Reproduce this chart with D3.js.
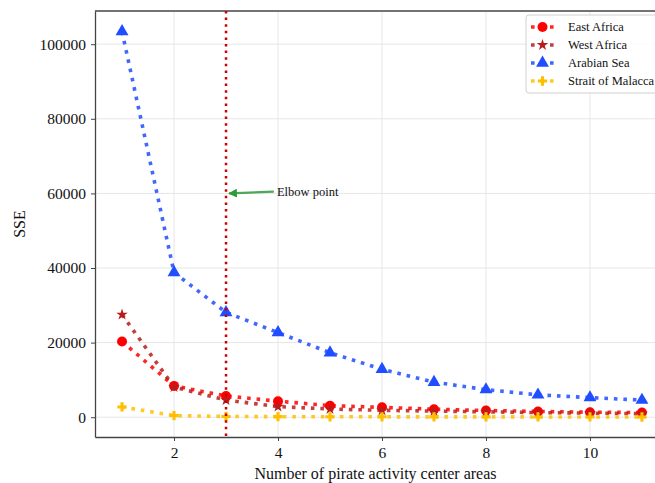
<!DOCTYPE html>
<html>
<head>
<meta charset="utf-8">
<script src="https://cdn.jsdelivr.net/npm/d3@7"></script>
<style>
  body { margin: 0; background: #fff; }
  svg { display: block; font-family: "Liberation Serif", "Times New Roman", serif; }
</style>
</head>
<body>
<svg id="chart" width="655" height="483"></svg>
<script>
// Number of clusters evaluated
const clusters = [1, 2, 3, 4, 5, 6, 7, 8, 9, 10, 11];

// SSE per region for each cluster count
const eastAfrica = [20300, 8400, 5700, 4300, 3100, 2650, 2150, 1800, 1550, 1350, 1250];
const westAfrica = [27500, 8100, 4600, 2850, 2200, 1850, 1650, 1450, 1250, 1100, 950];
const arabianSea = [103400, 38800, 28100, 22700, 17300, 12850, 9400, 7400, 6000, 5250, 4600];
const straitOfMalacca = [2750, 450, 200, 150, 120, 110, 100, 90, 80, 70, 60];

const seriesNames = ["East Africa", "West Africa", "Arabian Sea", "Strait of Malacca"];
const xTicks = [2, 4, 6, 8, 10];
const yTicks = [0, 20000, 40000, 60000, 80000, 100000];
const elbowK = 3;
const elbowLabel = "Elbow point";

const series = [
  { name: seriesNames[0], values: eastAfrica, color: "#ff0000", symbol: "circle" },
  { name: seriesNames[1], values: westAfrica, color: "#b81c1c", symbol: "star" },
  { name: seriesNames[2], values: arabianSea, color: "#1f4dff", symbol: "triangle" },
  { name: seriesNames[3], values: straitOfMalacca, color: "#ffbf00", symbol: "plus" }
];

const svg = d3.select("#chart");
const margin = { left: 95, top: 11, right: -1, bottom: 46 };
const W = 655, H = 483;
const iw = W - margin.left - margin.right;
const ih = H - margin.top - margin.bottom;

const x = d3.scaleLinear().domain([0.48, 11.27]).range([0, iw]);
const y = d3.scaleLinear().domain([-5300, 108900]).range([ih, 0]);

const g = svg.append("g").attr("transform", `translate(${margin.left},${margin.top})`);

// grid
g.append("g").selectAll("line").data(xTicks).join("line")
  .attr("x1", d => x(d)).attr("x2", d => x(d)).attr("y1", 0).attr("y2", ih)
  .attr("stroke", "#e6e6e6").attr("stroke-width", 1);
g.append("g").selectAll("line").data(yTicks).join("line")
  .attr("y1", d => y(d)).attr("y2", d => y(d)).attr("x1", 0).attr("x2", iw)
  .attr("stroke", "#e6e6e6").attr("stroke-width", 1);

// axes
const xAxis = g.append("g").attr("transform", `translate(0,${ih})`)
  .call(d3.axisBottom(x).tickValues(xTicks).tickFormat(d3.format("d"))
    .tickSize(4).tickPadding(6).tickSizeOuter(0));
const yAxis = g.append("g")
  .call(d3.axisLeft(y).tickValues(yTicks).tickFormat(d3.format("d"))
    .tickSize(4).tickPadding(5).tickSizeOuter(0));
[xAxis, yAxis].forEach(a => {
  a.attr("font-family", null).attr("font-size", null);
  a.select(".domain").attr("stroke", "#444").attr("stroke-width", 1.3);
  a.selectAll(".tick line").attr("stroke", "#444").attr("stroke-width", 1);
  a.selectAll(".tick text").attr("font-size", 15.5).attr("fill", "#111");
});
// top spine
g.append("line").attr("x1", 0).attr("x2", iw).attr("y1", 0).attr("y2", 0)
  .attr("stroke", "#444").attr("stroke-width", 1.3);

// axis titles
svg.append("text").attr("x", margin.left + iw / 2).attr("y", 479)
  .attr("text-anchor", "middle").attr("font-size", 16).attr("fill", "#111")
  .text("Number of pirate activity center areas");
svg.append("text").attr("transform", `translate(25,${margin.top + ih / 2}) rotate(-90)`)
  .attr("text-anchor", "middle").attr("font-size", 16).attr("fill", "#111")
  .text("SSE");

const symbolType = {
  circle: d3.symbolCircle, star: d3.symbolStar, triangle: d3.symbolTriangle, plus: d3.symbolCross
};
const symbolSize = { circle: 78, star: 42, triangle: 72, plus: 48 };

const line = d3.line().x((d, i) => x(clusters[i])).y(d => y(d));

const plot = g.append("g");
series.forEach(s => {
  plot.append("path").datum(s.values)
    .attr("d", line).attr("fill", "none")
    .attr("stroke", s.color).attr("stroke-width", 3.6)
    .attr("stroke-dasharray", "3.6 5.9").attr("stroke-opacity", 0.85);
});
series.forEach(s => {
  plot.append("g").selectAll("path").data(s.values).join("path")
    .attr("transform", (d, i) => `translate(${x(clusters[i])},${y(d)})`)
    .attr("d", d3.symbol().type(symbolType[s.symbol]).size(symbolSize[s.symbol]))
    .attr("fill", s.color);
});

// elbow marker line
g.append("line").attr("x1", x(elbowK)).attr("x2", x(elbowK)).attr("y1", 0).attr("y2", ih)
  .attr("stroke", "#cc0000").attr("stroke-width", 2.5).attr("stroke-dasharray", "2.5 4.1");

// annotation arrow
const defs = svg.append("defs");
defs.append("marker").attr("id", "arrowHead").attr("viewBox", "0 0 10 10")
  .attr("refX", 9).attr("refY", 5).attr("markerWidth", 4).attr("markerHeight", 4)
  .attr("markerUnits", "strokeWidth").attr("orient", "auto")
  .append("path").attr("d", "M0,0 L10,5 L0,10 Z").attr("fill", "#2e9a3a");
g.append("line")
  .attr("x1", x(3.92)).attr("y1", y(60500))
  .attr("x2", x(elbowK) + 3).attr("y2", y(60000))
  .attr("stroke", "#2e9a3a").attr("stroke-opacity", 0.85).attr("stroke-width", 2.2)
  .attr("marker-end", "url(#arrowHead)");
g.append("text").attr("x", x(3.98)).attr("y", y(60500)).attr("dy", "0.33em")
  .attr("font-size", 12.5).attr("fill", "#111").text(elbowLabel);

// legend
const lg = svg.append("g").attr("transform", "translate(526,15)");
lg.append("rect").attr("x", 0).attr("y", 0).attr("width", 140).attr("height", 78).attr("rx", 3)
  .attr("fill", "#fff").attr("fill-opacity", 0.85).attr("stroke", "#d0d0d0");
series.forEach((s, i) => {
  const yy = 12 + i * 18;
  lg.append("line").attr("x1", 5).attr("x2", 28).attr("y1", yy).attr("y2", yy)
    .attr("stroke", s.color).attr("stroke-width", 3.6).attr("stroke-dasharray", "3.6 5.9")
    .attr("stroke-opacity", 0.85);
  lg.append("path").attr("transform", `translate(16.5,${yy})`)
    .attr("d", d3.symbol().type(symbolType[s.symbol]).size(symbolSize[s.symbol]))
    .attr("fill", s.color);
  lg.append("text").attr("x", 42).attr("y", yy).attr("dy", "0.35em")
    .attr("font-size", 12.5).attr("fill", "#111").text(s.name);
});
</script>
</body>
</html>
